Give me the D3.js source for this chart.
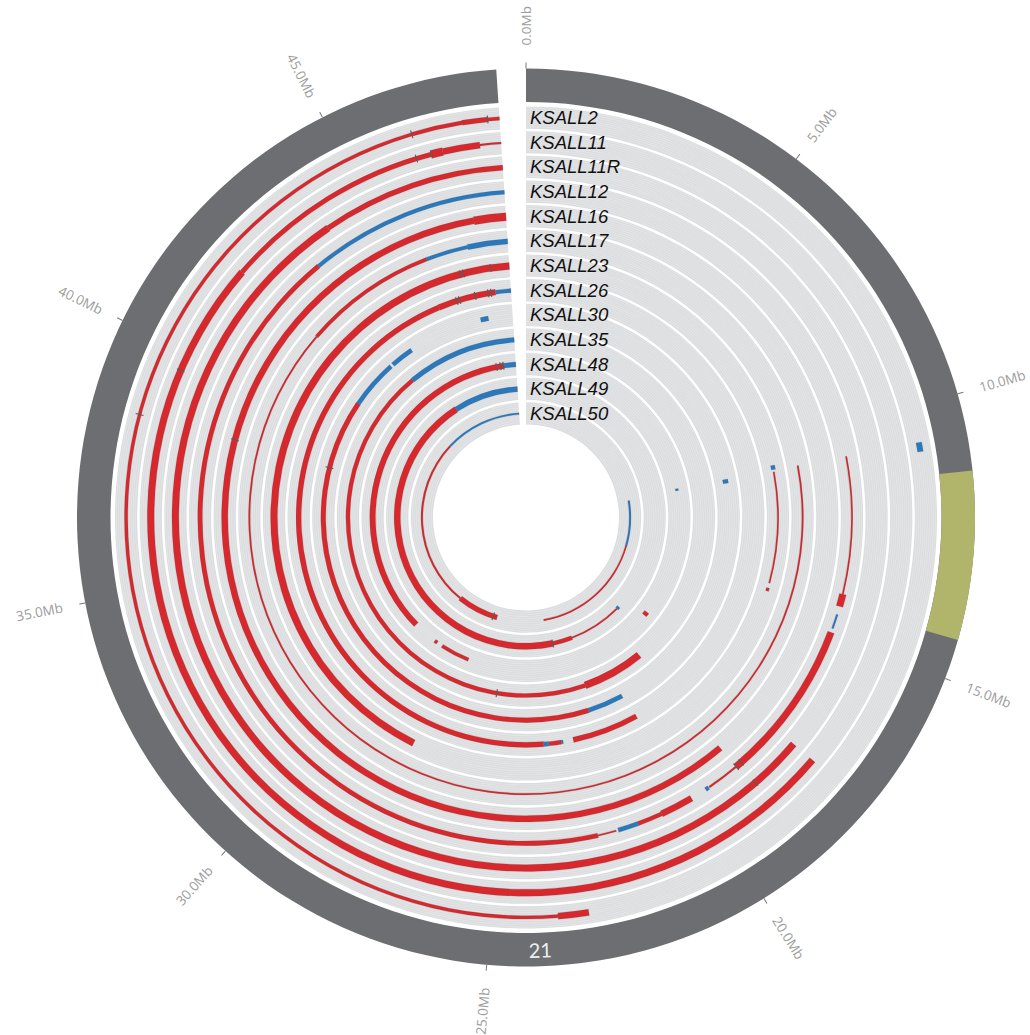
<!DOCTYPE html>
<html>
<head>
<meta charset="utf-8">
<script src="https://cdn.jsdelivr.net/npm/d3@7"></script>
<style>
  html, body { margin: 0; background: #ffffff; }
  svg { display: block; }
</style>
</head>
<body>
<svg id="chart" width="1030" height="1035"></svg>
<script>
// ---- chromosome 21 ----
const chromName = "21";
const chromLength = 48.13;            // Mb
const highlightBand = [11.35, 14.3];  // Mb, centromeric region
const tickValues = [0, 5, 10, 15, 20, 25, 30, 35, 40, 45];

// ---- samples, outermost ring first ----
const samples = ["KSALL2", "KSALL11", "KSALL11R", "KSALL12", "KSALL16", "KSALL17",
                 "KSALL23", "KSALL26", "KSALL30", "KSALL35", "KSALL48", "KSALL49", "KSALL50"];

// segments: [start Mb, end Mb, log2 ratio]  (positive = gain, negative = loss)
const segKSALL2 = [[10.7, 10.88, -0.5], [23.1, 23.7, 0.55], [23.7, 46.4, 0.28],
                   [46.4, 47.4, 0.33], [47.4, 47.9, 0.42], [47.9, 48.13, 0.3]];
const segKSALL11 = [[17.6, 42.0, 0.6], [42.0, 46.67, 0.4], [46.67, 46.91, 0.7],
                    [46.91, 47.69, 0.55], [47.69, 48.13, 0.15]];
const segKSALL11R = [[17.6, 44.0, 0.6], [44.0, 48.13, 0.45]];
const segKSALL12 = [[10.7, 14.0, 0.12], [14.0, 14.3, 0.6], [14.5, 14.85, -0.15],
                    [14.95, 18.9, 0.6], [18.9, 19.7, 0.15], [19.72, 19.8, -0.35],
                    [20.2, 21.0, 0.55], [21.0, 21.6, 0.35], [21.6, 22.1, -0.38],
                    [22.15, 22.6, 0.12], [22.6, 43.3, 0.4], [43.3, 48.13, -0.33]];
const segKSALL16 = [[18.9, 47.3, 0.55], [47.3, 48.13, 0.7]];
const segKSALL17 = [[10.7, 42.0, 0.13], [42.0, 45.8, 0.3], [45.8, 47.0, -0.3], [47.0, 48.13, -0.45]];
const segKSALL23 = [[10.55, 10.68, -0.35], [10.75, 14.2, 0.12], [14.35, 14.45, 0.25], [27.9, 48.13, 0.6]];
const segKSALL26 = [[20.4, 22.7, 0.45], [23.05, 23.12, -0.3], [23.12, 23.55, 0.35],
                    [23.55, 23.72, -0.4], [23.72, 45.6, 0.45], [45.6, 47.6, 0.5], [47.6, 48.13, -0.35]];
const segKSALL30 = [[10.7, 10.85, -0.45], [20.5, 21.9, -0.38], [21.9, 41.1, 0.42],
                    [41.1, 43.0, -0.38], [43.1, 44.0, -0.38], [46.9, 47.2, -0.4]];
const segKSALL35 = [[19.0, 21.7, 0.62], [21.7, 43.3, 0.35], [43.3, 48.13, -0.42]];
const segKSALL48 = [[10.7, 10.8, -0.25], [17.3, 17.5, 0.45], [27.3, 28.8, 0.3],
                    [29.1, 29.25, 0.3], [30.5, 47.5, 0.5], [47.5, 48.13, -0.42]];
const segKSALL49 = [[18.1, 18.25, -0.3], [18.25, 21.5, 0.12], [21.5, 22.7, 0.35],
                    [22.7, 44.2, 0.55], [44.2, 48.13, -0.45]];
const segKSALL50 = [[10.9, 14.3, -0.15], [14.3, 23.0, 0.12], [26.5, 29.6, 0.45],
                    [29.6, 42.3, 0.15], [42.3, 48.13, -0.15]];

const segmentsBySample = [segKSALL2, segKSALL11, segKSALL11R, segKSALL12, segKSALL16, segKSALL17,
                          segKSALL23, segKSALL26, segKSALL30, segKSALL35, segKSALL48, segKSALL49, segKSALL50];

// breakpoint markers: [sample index, position Mb]
const breakpoints = [[0, 46.4], [0, 47.9], [0, 38.5], [1, 46.35], [1, 46.67], [1, 39.6],
                     [2, 18.8], [3, 18.75], [3, 18.9], [4, 38.5], [6, 46.6], [6, 46.7], [6, 47.55],
                     [7, 46.25], [7, 46.35], [7, 46.9], [7, 47.35], [7, 47.45], [8, 38.4],
                     [9, 25.6], [10, 47.15], [10, 47.35], [10, 47.5], [11, 22.7], [12, 26.8]];

// ---- layout ----
const cx = 526, cy = 517.5;
const gapDeg = 3.8;
const ideoInner = 415.5, ideoOuter = 449;
const ringOuter = 411, ringInner = 93;

const angle = d3.scaleLinear()
  .domain([0, chromLength])
  .range([0, (360 - gapDeg) * Math.PI / 180]);

const ring = d3.scaleBand()
  .domain(samples)
  .range([ringInner, ringOuter])
  .paddingInner(0.1);
// outermost sample gets the largest radius
const ringStart = s => ringInner + ringOuter - ring(s) - ring.bandwidth();

const thickness = d3.scaleLinear().domain([0.1, 0.7]).range([1.4, 8]).clamp(true);

const colorGain = "#d6282d", colorLoss = "#2b79bd";

const svg = d3.select("#chart");
const g = svg.append("g").attr("transform", `translate(${cx},${cy})`);
const arc = d3.arc();
const fullEnd = angle(chromLength);

// ---- ideogram ----
g.append("path")
  .attr("d", arc({innerRadius: ideoInner, outerRadius: ideoOuter, startAngle: 0, endAngle: fullEnd}))
  .attr("fill", "#6d6e71");
g.append("path")
  .attr("d", arc({innerRadius: ideoInner, outerRadius: ideoOuter,
                  startAngle: angle(highlightBand[0]), endAngle: angle(highlightBand[1])}))
  .attr("fill", "#b1b46b");

const midA = angle(chromLength / 2);
const rName = (ideoInner + ideoOuter) / 2;
g.append("text")
  .attr("transform", `translate(${rName * Math.sin(midA)},${-rName * Math.cos(midA)}) rotate(${midA * 180 / Math.PI - 180})`)
  .attr("text-anchor", "middle")
  .attr("dominant-baseline", "central")
  .attr("font-family", "Lato, 'Noto Sans', sans-serif")
  .attr("font-size", 20)
  .attr("fill", "#eeeeee")
  .text(chromName);

// ---- position ticks ----
const ticks = g.append("g").selectAll("g").data(tickValues).join("g")
  .attr("transform", d => `rotate(${angle(d) * 180 / Math.PI - 90})`);
ticks.append("line")
  .attr("x1", ideoOuter).attr("x2", ideoOuter + 6)
  .attr("stroke", "#777").attr("stroke-width", 1);
ticks.append("text")
  .attr("transform", d => {
    const deg = angle(d) * 180 / Math.PI;
    return deg > 180 ? `translate(${ideoOuter + 23},0) rotate(180)` : `translate(${ideoOuter + 23},0)`;
  })
  .attr("text-anchor", d => angle(d) * 180 / Math.PI > 180 ? "end" : "start")
  .attr("dominant-baseline", "central")
  .attr("font-family", "'Open Sans', sans-serif")
  .attr("font-size", 13.5)
  .attr("fill", "#9c9c9c")
  .text(d => d.toFixed(1) + "Mb");

// ---- sample rings ----
const rings = g.append("g").selectAll("g").data(samples).join("g");
rings.append("path")
  .attr("d", s => arc({innerRadius: ringStart(s), outerRadius: ringStart(s) + ring.bandwidth(),
                       startAngle: 0, endAngle: fullEnd}))
  .attr("fill", "#dcdddf");

// fine concentric grid inside each ring
rings.each(function (s) {
  const r0 = ringStart(s), bw = ring.bandwidth();
  const lines = d3.range(r0 + 1.6, r0 + bw - 0.8, 2.1);
  d3.select(this).selectAll("path.grid").data(lines).join("path")
    .attr("class", "grid")
    .attr("d", r => arc({innerRadius: r, outerRadius: r + 0.6, startAngle: 0, endAngle: fullEnd}))
    .attr("fill", "#e7e8ea");
});

// segments
rings.each(function (s, i) {
  const mid = ringStart(s) + ring.bandwidth() * 0.5;
  d3.select(this).selectAll("path.seg").data(segmentsBySample[i]).join("path")
    .attr("class", "seg")
    .attr("d", d => {
      const t = thickness(Math.abs(d[2]));
      return arc({innerRadius: mid - t / 2, outerRadius: mid + t / 2,
                  startAngle: angle(d[0]), endAngle: angle(d[1])});
    })
    .attr("fill", d => d[2] >= 0 ? colorGain : colorLoss)
    .attr("stroke", "#4a4a4a")
    .attr("stroke-opacity", 0.35)
    .attr("stroke-width", 0.5);
});

// breakpoint markers
g.append("g").selectAll("line").data(breakpoints).join("line")
  .attr("transform", d => `rotate(${angle(d[1]) * 180 / Math.PI - 90})`)
  .attr("x1", d => ringStart(samples[d[0]]) + ring.bandwidth() * 0.5 - 4)
  .attr("x2", d => ringStart(samples[d[0]]) + ring.bandwidth() * 0.5 + 4)
  .attr("stroke", "#5b5b5b")
  .attr("stroke-width", 1.1);

// sample labels beside the start of the chromosome
g.append("g").selectAll("text").data(samples).join("text")
  .attr("x", 4)
  .attr("y", s => -(ringStart(s) + ring.bandwidth() / 2))
  .attr("dominant-baseline", "central")
  .attr("font-family", "'Liberation Sans', Arial, sans-serif")
  .attr("font-style", "italic")
  .attr("font-size", 18.5)
  .attr("fill", "#111")
  .text(s => s);
</script>
</body>
</html>
